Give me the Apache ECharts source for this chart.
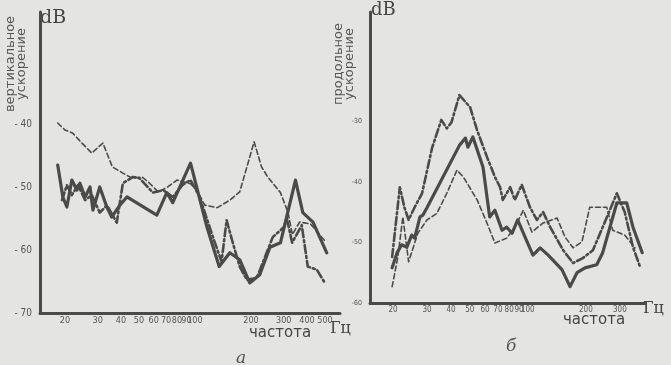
<!DOCTYPE html>
<html><head><meta charset="utf-8">
<script src="https://cdn.jsdelivr.net/npm/echarts@6/dist/echarts.min.js"></script>
<style>html,body{margin:0;padding:0;background:#e4e4e2}#c{width:671px;height:365px}</style>
</head><body><div id="c"></div>
<script>
// Panel а — vertical acceleration (frequency Hz, level dB)
const leftSolid = [[18.3,-46.4],[19.5,-51.5],[20.5,-53.1],[21.8,-48.8],[23.2,-50.4],[24.1,-49.3],[25.7,-51.5],[27.3,-49.9],[28.3,-53.6],[30.8,-49.9],[33.6,-53.1],[35.7,-54.7],[39.5,-52.8],[43.1,-51.5],[62.4,-54.4],[70.6,-50.8],[76,-52.4],[94.7,-46.1],[116,-56.3],[135,-62.6],[154,-60.4],[174,-61.5],[197,-65.2],[223,-63.9],[253,-59.5],[288,-58.8],[347,-48.8],[380,-54],[431,-55.5],[511,-60.4]];
const leftDashDot = [[19.3,-52],[20.5,-49.6],[21.8,-51.2],[23.5,-49.6],[25.7,-52],[27.9,-51.2],[30.8,-54],[33.7,-52.8],[38,-55.6],[41,-49.3],[46.5,-48.3],[50.4,-48.5],[59.4,-50.8],[67.5,-50.4],[76,-51.5],[85.6,-49.6],[94.7,-48.8],[106,-51.5],[125,-57.9],[139,-61.8],[148,-55.2],[158,-58.3],[174,-62.6],[190,-64.7],[215,-64.4],[262,-57.9],[301,-56.3],[311,-54.8],[333,-58.8],[375,-56],[404,-62.6],[452,-63.1],[499,-65.2]];
const leftDashed = [[18.3,-39.7],[20,-40.8],[22,-41.3],[24.7,-42.9],[27.9,-44.5],[32,-42.9],[36,-46.7],[41,-47.7],[46,-48.5],[52,-48.3],[57,-49.3],[63.5,-50.7],[70.5,-50],[80,-48.8],[94.7,-49.4],[102,-50.4],[113,-52.8],[132,-53.2],[154,-52],[174,-50.7],[208,-42.7],[228,-46.7],[246,-48.3],[288,-50.8],[316,-53.9],[334,-57.5],[365,-55.5],[418,-55.8],[499,-58.5]];
// Panel б — longitudinal acceleration
const rightSolid = [[19.8,-54.2],[21,-51.7],[22.2,-50.4],[23.6,-50.8],[25,-48.8],[25.9,-49.3],[27.6,-45.8],[28.6,-45.5],[30,-44.3],[44.2,-34],[47.5,-32.8],[48.9,-34.3],[51.9,-32.6],[58.6,-37.6],[63.4,-45.8],[67.5,-44.7],[73.5,-48],[77.8,-47.5],[82.8,-48.5],[88.6,-46.3],[99.7,-50.1],[106.3,-52.1],[115.8,-50.9],[127.5,-52.1],[150.3,-54.5],[165.5,-57.3],[179.9,-55],[197.7,-54.2],[227.6,-53.7],[244.4,-51.7],[289.3,-43.5],[325.6,-43.5],[350.9,-47.5],[391.8,-51.7]];
const rightDashDot = [[19.8,-52.4],[21.7,-40.9],[22.9,-44.2],[24.1,-46.3],[25.9,-44.2],[28.3,-41.9],[31.9,-34.4],[35.6,-29.8],[38,-31.2],[40.2,-30.2],[44.2,-25.7],[50.2,-27.7],[54.6,-31.5],[61.4,-35.9],[67.5,-39.2],[71.8,-40.9],[74.2,-43],[81,-40.9],[85.6,-43],[93,-40.5],[102.6,-44.2],[111.4,-46.3],[120,-45],[130.6,-47.5],[152.6,-51.3],[171.6,-53.4],[192.8,-52.6],[217.4,-51.3],[244.4,-47.5],[289.3,-41.9],[317.9,-45],[350.9,-50.8],[382.6,-54.1]];
const rightDashed = [[19.8,-57.3],[21.2,-52.4],[22.5,-45.8],[24.1,-53.2],[26.9,-48.5],[30,-46.3],[33.8,-45.2],[38,-41.9],[42.9,-38.1],[46.3,-39.2],[54.6,-43],[61.4,-46.8],[67.5,-50.1],[77.8,-49.3],[85.6,-47.5],[94.8,-44.7],[105,-48.3],[120,-46.8],[141.8,-46],[155.8,-49.1],[171.6,-50.9],[190.8,-49.9],[209.4,-44.2],[256.5,-44.2],[275.5,-48],[317.9,-48.8],[359,-50.9]];
// Tick labels
const leftXTicks = [20,30,40,50,60,70,80,90,100,200,300,400,500];
const rightXTicks = [20,30,40,50,60,70,80,90,100,200,300];
const leftYTicks = [-40,-50,-60,-70];
const rightYTicks = [-30,-40,-50,-60];

const ink = '#4a4a4a';
const lg = v => Math.log10(v);
const tr = arr => arr.map(p => [lg(p[0]), p[1]]);

function xAxis(idx, min, max, ticks, fs, margin) {
  return {
    type: 'value', gridIndex: idx, min: lg(min), max: lg(max),
    axisLine: {show: true, lineStyle: {color: ink, width: 3}},
    axisTick: {show: false},
    splitLine: {show: false},
    axisLabel: {customValues: ticks.map(lg), formatter: v => String(Math.round(Math.pow(10, v))),
      color: '#555', fontSize: fs, fontFamily: 'DejaVu Sans Condensed, DejaVu Sans', margin: margin}
  };
}
function yAxis(idx, min, max, ticks, fs, fmt) {
  return {
    type: 'value', gridIndex: idx, min: min, max: max,
    axisLine: {show: true, lineStyle: {color: ink, width: 3}},
    axisTick: {show: false},
    splitLine: {show: false},
    axisLabel: {customValues: ticks, formatter: fmt,
      color: '#555', fontSize: fs, fontFamily: 'DejaVu Sans Condensed, DejaVu Sans', margin: 8}
  };
}
function line(data, xi, style) {
  return {type: 'line', xAxisIndex: xi, yAxisIndex: xi, data: tr(data), showSymbol: false,
    symbol: 'none', lineStyle: Object.assign({color: ink, cap: 'round', join: 'round'}, style), silent: true};
}

const chart = echarts.init(document.getElementById('c'), null, {renderer: 'canvas'});
chart.setOption({
  backgroundColor: '#e4e4e2',
  animation: false,
  grid: [
    {left: 40, top: 12, width: 300, height: 301, outerBoundsMode: 'none'},
    {left: 370, top: 12, width: 275, height: 291, outerBoundsMode: 'none'}
  ],
  xAxis: [xAxis(0, 14.7, 602, leftXTicks, 9, 3), xAxis(1, 15.2, 405, rightXTicks, 8, 3)],
  yAxis: [yAxis(0, -70, -22, leftYTicks, 10, v => '- ' + Math.abs(v)),
          yAxis(1, -60, -12, rightYTicks, 7, v => String(v))],
  series: [
    line(leftDashed, 0, {width: 1.6, type: [5, 3]}),
    line(leftDashDot, 0, {width: 2.6, type: [8, 3, 2, 3]}),
    line(leftSolid, 0, {width: 3.2, type: 'solid'}),
    line(rightDashed, 1, {width: 1.6, type: [5, 3]}),
    line(rightDashDot, 1, {width: 2.6, type: [8, 3, 2, 3]}),
    line(rightSolid, 1, {width: 3.2, type: 'solid'})
  ],
  graphic: [
    {type: 'text', x: 16, y: 64, rotation: Math.PI / 2, style: {text: 'вертикальное\nускорение', fill: '#555', font: '13px DejaVu Sans', align: 'center', verticalAlign: 'middle', lineHeight: 11}},
    {type: 'text', x: 40, y: 9, style: {text: 'dB', fill: '#444', font: '19px DejaVu Serif'}},
    {type: 'text', x: 344, y: 64, rotation: Math.PI / 2, style: {text: 'продольное\nускорение', fill: '#555', font: '13px DejaVu Sans', align: 'center', verticalAlign: 'middle', lineHeight: 11}},
    {type: 'text', x: 371, y: 1, style: {text: 'dB', fill: '#444', font: '18px DejaVu Serif'}},
    {type: 'text', x: 249, y: 333, style: {text: 'частота', fill: '#444', font: '15px DejaVu Sans', verticalAlign: 'middle'}},
    {type: 'text', x: 330, y: 329, style: {text: 'Гц', fill: '#444', font: '16px DejaVu Serif', verticalAlign: 'middle'}},
    {type: 'text', x: 563, y: 320, style: {text: 'частота', fill: '#444', font: '15px DejaVu Sans', verticalAlign: 'middle'}},
    {type: 'text', x: 643, y: 309, style: {text: 'Гц', fill: '#444', font: '16px DejaVu Serif', verticalAlign: 'middle'}},
    {type: 'text', x: 236, y: 350, style: {text: 'а', fill: '#555', font: 'italic 17px DejaVu Serif'}},
    {type: 'text', x: 506, y: 338, style: {text: 'б', fill: '#555', font: 'italic 17px DejaVu Serif'}}
  ]
});
</script></body></html>
